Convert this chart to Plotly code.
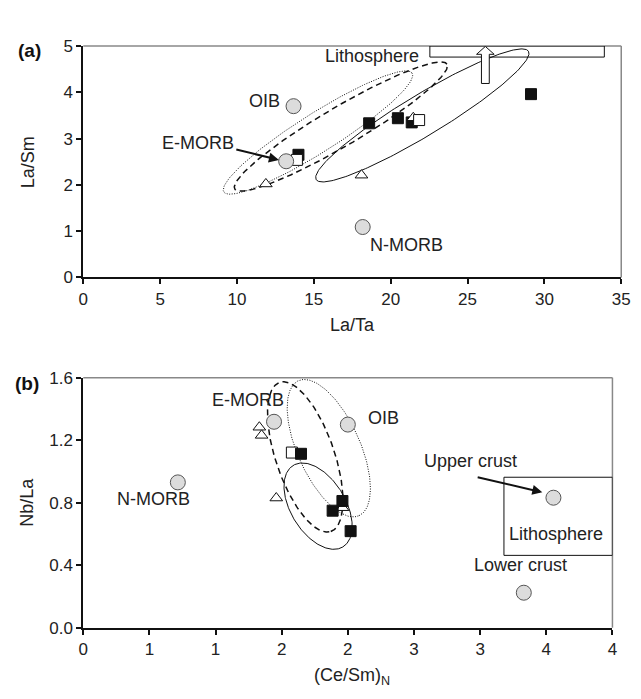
import numpy as np
import plotly.graph_objects as go

# ---------------- data: panel (a) La/Ta vs La/Sm ----------------
a_ref_names = ["OIB", "E-MORB", "N-MORB"]
a_ref_x = [13.68, 13.2, 18.18]
a_ref_y = [3.70, 2.51, 1.09]
a_fill_x = [14.0, 18.6, 20.47, 21.37, 29.13]
a_fill_y = [2.65, 3.33, 3.44, 3.35, 3.96]
a_tri_x = [11.88, 18.1, 21.47]
a_tri_y = [2.02, 2.21, 3.45]
a_open_x = [13.9, 21.85]
a_open_y = [2.54, 3.40]
a_xticks = [0, 5, 10, 15, 20, 25, 30, 35]
a_yticks = [0, 1, 2, 3, 4, 5]
# field ellipses: center x, center y, semi-major (px), semi-minor (px), angle (deg)
a_ell_dot = [15.27, 3.13, 114, 20, 32.4]
a_ell_dash = [16.76, 3.26, 126, 20, 30.6]
a_ell_solid = [22.06, 3.50, 127, 21, 31.3]
a_crust_box = [22.55, 33.9, 4.76, 5.0]

# ---------------- data: panel (b) (Ce/Sm)N vs Nb/La ----------------
b_ref_names = ["N-MORB", "E-MORB", "OIB", "Upper crust", "Lower crust"]
b_ref_x = [0.715, 1.442, 2.0, 3.554, 3.33]
b_ref_y = [0.93, 1.318, 1.30, 0.832, 0.224]
b_tri_x = [1.331, 1.348, 1.459, 1.96]
b_tri_y = [1.283, 1.231, 0.83, 0.768]
b_open_x = [1.577]
b_open_y = [1.121]
b_fill_x = [1.646, 1.959, 1.885, 2.021]
b_fill_y = [1.113, 0.811, 0.749, 0.618]
b_xtickvals = [0, 0.5, 1, 1.5, 2, 2.5, 3, 3.5, 4]
b_xticktext = ["0", "1", "1", "2", "2", "3", "3", "4", "4"]
b_yticks = [0.0, 0.4, 0.8, 1.2, 1.6]
b_ell_dash = [1.678, 1.093, 81, 30, -71.2]
b_ell_dot = [1.856, 1.149, 76, 32, -66.0]
b_ell_solid = [1.775, 0.778, 49, 28, -58.9]
b_litho_box = [3.18, 4.0, 0.463, 0.963]

# ---------------- layout geometry (pixels) ----------------
W, H = 641, 699
A_L, A_R, A_T, A_B = 80, 630, 38, 276
B_L, B_R, B_T, B_B = 80, 621, 379, 636
a_xr, a_yr = [0, 35], [0, 5]
b_xr, b_yr = [0, 4], [0, 1.6]
a_sx = (A_R - A_L) / (a_xr[1] - a_xr[0])
a_sy = (A_B - A_T) / (a_yr[1] - a_yr[0])
b_sx = (B_R - B_L) / (b_xr[1] - b_xr[0])
b_sy = (B_B - B_T) / (b_yr[1] - b_yr[0])


def ellipse(p, sx, sy, n=240):
    cx, cy, a, b, ang = p
    t = np.linspace(0, 2 * np.pi, n)
    th = np.radians(ang)
    u, v = a * np.cos(t), b * np.sin(t)
    px = u * np.cos(th) - v * np.sin(th)
    py = u * np.sin(th) + v * np.cos(th)
    return cx + px / sx, cy + py / sy


FONT = "Liberation Sans, Arial, sans-serif"
fig = go.Figure()


def add_points(xs, ys, kind, xa, ya):
    if kind == "fill":
        m = dict(symbol="square", size=11, color="#111111", line=dict(color="#111111", width=1))
    elif kind == "open":
        m = dict(symbol="square", size=11, color="white", line=dict(color="#111111", width=1))
    elif kind == "tri":
        m = dict(symbol="triangle-up", size=11, color="white", line=dict(color="#111111", width=1))
    else:
        m = dict(symbol="circle", size=15, color="#dcdcdc", line=dict(color="#555555", width=1))
    fig.add_trace(go.Scatter(x=xs, y=ys, mode="markers", marker=m, xaxis=xa, yaxis=ya,
                             showlegend=False, hoverinfo="skip"))


def add_ell(p, sx, sy, dash, width, xa, ya):
    ex, ey = ellipse(p, sx, sy)
    fig.add_trace(go.Scatter(x=ex, y=ey, mode="lines", line=dict(color="#111111", width=width, dash=dash),
                             xaxis=xa, yaxis=ya, showlegend=False, hoverinfo="skip"))


# panel a
add_ell(a_ell_dot, a_sx, a_sy, "1px,1.5px", 1, "x", "y")
add_ell(a_ell_dash, a_sx, a_sy, "6px,4px", 1.5, "x", "y")
add_ell(a_ell_solid, a_sx, a_sy, "solid", 1, "x", "y")
add_points(a_fill_x, a_fill_y, "fill", "x", "y")
add_points(a_tri_x, a_tri_y, "tri", "x", "y")
add_points(a_open_x, a_open_y, "open", "x", "y")
add_points(a_ref_x, a_ref_y, "ref", "x", "y")

# panel b
add_ell(b_ell_dot, b_sx, b_sy, "1px,1.5px", 1, "x2", "y2")
add_ell(b_ell_dash, b_sx, b_sy, "6px,4px", 1.5, "x2", "y2")
add_ell(b_ell_solid, b_sx, b_sy, "solid", 1, "x2", "y2")
add_points(b_tri_x, b_tri_y, "tri", "x2", "y2")
add_points(b_open_x, b_open_y, "open", "x2", "y2")
add_points(b_fill_x, b_fill_y, "fill", "x2", "y2")
add_points(b_ref_x, b_ref_y, "ref", "x2", "y2")

axis_common = dict(showgrid=False, zeroline=False, showline=True, linecolor="#111111", linewidth=2,
                   ticks="outside", ticklen=5, tickwidth=1.5, tickcolor="#111111",
                   tickfont=dict(family=FONT, size=17, color="#222222"), fixedrange=True)

fig.update_layout(
    width=W, height=H, margin=dict(l=0, r=0, t=0, b=0),
    paper_bgcolor="white", plot_bgcolor="white",
    xaxis=dict(domain=[A_L / W, A_R / W], range=a_xr, tickvals=a_xticks, anchor="y", **axis_common),
    yaxis=dict(domain=[1 - A_B / H, 1 - A_T / H], range=a_yr, tickvals=a_yticks, anchor="x", **axis_common),
    xaxis2=dict(domain=[B_L / W, B_R / W], range=b_xr, tickvals=b_xtickvals, ticktext=b_xticktext,
                anchor="y2", **axis_common),
    yaxis2=dict(domain=[1 - B_B / H, 1 - B_T / H], range=b_yr, tickvals=b_yticks, tickformat=".1f",
                anchor="x2", **axis_common),
)

shapes = []
# gray top/right frame lines
for xa, ya in [("x", "y"), ("x2", "y2")]:
    shapes.append(dict(type="line", xref=xa + " domain", yref=ya + " domain", x0=0, x1=1, y0=1, y1=1,
                       line=dict(color="#888888", width=1.5)))
    shapes.append(dict(type="line", xref=xa + " domain", yref=ya + " domain", x0=1, x1=1, y0=0, y1=1,
                       line=dict(color="#888888", width=1.5)))
# crust box (a)
shapes.append(dict(type="rect", xref="x", yref="y", x0=a_crust_box[0], x1=a_crust_box[1],
                   y0=a_crust_box[2], y1=a_crust_box[3], line=dict(color="#111111", width=1)))
# hollow upward arrow (a)
acx = 26.16
hw, hh = 4 / a_sx, 9 / a_sx
yb, yn, yt = 4.19, 4.82, 4.99
path = (f"M {acx-hw},{yb} L {acx+hw},{yb} L {acx+hw},{yn} L {acx+hh},{yn} L {acx},{yt} "
        f"L {acx-hh},{yn} L {acx-hw},{yn} Z")
shapes.append(dict(type="path", xref="x", yref="y", path=path, fillcolor="white",
                   line=dict(color="#111111", width=1)))
# lithosphere box (b)
shapes.append(dict(type="rect", xref="x2", yref="y2", x0=b_litho_box[0], x1=b_litho_box[1],
                   y0=b_litho_box[2], y1=b_litho_box[3], line=dict(color="#111111", width=1)))
fig.update_layout(shapes=shapes)

LBL = dict(family=FONT, size=18, color="#222222")
ann = []


def txt(x, y, s, xr="x", yr="y", **kw):
    d = dict(x=x, y=y, text=s, xref=xr, yref=yr, showarrow=False, font=LBL,
             xanchor="center", yanchor="middle")
    d.update(kw)
    ann.append(d)


# panel a labels
txt(11.77, 3.82, "OIB")
txt(7.45, 2.90, "E-MORB")
txt(21.0, 0.71, "N-MORB")
txt(18.77, 4.79, "Lithosphere")
txt(25.96, 5.32, "crust")
ann.append(dict(x=12.73, y=2.54, ax=9.86, ay=2.77, xref="x", yref="y", axref="x", ayref="y",
                text="", showarrow=True, arrowhead=2, arrowsize=1, arrowwidth=2, arrowcolor="#111111"))
# panel b labels
txt(1.244, 1.455, "E-MORB", "x2", "y2")
txt(0.530, 0.826, "N-MORB", "x2", "y2")
txt(2.268, 1.339, "OIB", "x2", "y2")
txt(2.928, 1.065, "Upper crust", "x2", "y2")
txt(3.573, 0.598, "Lithosphere", "x2", "y2")
txt(3.303, 0.400, "Lower crust", "x2", "y2")
ann.append(dict(x=3.47, y=0.867, ax=2.97, ay=0.965, xref="x2", yref="y2", axref="x2", ayref="y2",
                text="", showarrow=True, arrowhead=2, arrowsize=1, arrowwidth=2, arrowcolor="#111111"))

# panel tags and axis titles (paper coords)
TAG = dict(family=FONT, size=19, color="#111111")
PA = dict(xref="paper", yref="paper", showarrow=False, xanchor="center", yanchor="middle")
ann.append(dict(x=25 / W, y=1 - 43 / H, text="<b>(a)</b>", font=TAG, **PA))
ann.append(dict(x=23 / W, y=1 - 385 / H, text="<b>(b)</b>", font=TAG, **PA))
ann.append(dict(x=23 / W, y=1 - 157 / H, text="La/Sm", textangle=-90, font=LBL, **PA))
ann.append(dict(x=23 / W, y=1 - 507 / H, text="Nb/La", textangle=-90, font=LBL, **PA))
ann.append(dict(x=355 / W, y=1 - 325 / H, text="La/Ta", font=LBL, **PA))
ann.append(dict(x=355 / W, y=1 - 686 / H, text="(Ce/Sm)<sub>N</sub>", font=LBL, **PA))
fig.update_layout(annotations=ann)

fig.write_html("out.html")
